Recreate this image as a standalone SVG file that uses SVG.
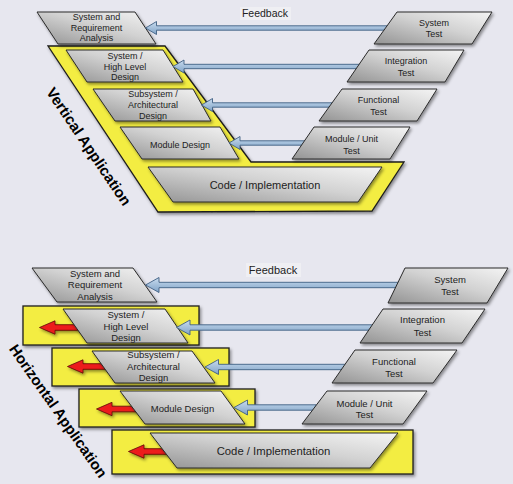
<svg xmlns="http://www.w3.org/2000/svg" width="513" height="484" viewBox="0 0 513 484">
  <defs>
    <linearGradient id="boxFill" x1="0" y1="1" x2="1" y2="0">
      <stop offset="0" stop-color="#939393"/>
      <stop offset="0.55" stop-color="#d2d2d2"/>
      <stop offset="1" stop-color="#f4f4f4"/>
    </linearGradient>
    <linearGradient id="blueFill" x1="0" y1="0" x2="0" y2="1">
      <stop offset="0" stop-color="#c9dcef"/>
      <stop offset="1" stop-color="#7fa2c6"/>
    </linearGradient>
    <filter id="shadow" x="-10%" y="-10%" width="130%" height="140%">
      <feDropShadow dx="1.5" dy="2" stdDeviation="1.6" flood-color="#000" flood-opacity="0.42"/>
    </filter>
    <style>
      .box { fill: url(#boxFill); stroke: #2a2a2a; stroke-width: 1; filter: url(#shadow); }
      .band { fill: #f3ed42; stroke: #1e1e1e; stroke-width: 1.3; filter: url(#shadow); }
      .fb { fill: url(#blueFill); stroke: #3e5f82; stroke-width: 0.9; }
      .shift { fill: #ec1c1c; stroke: #5c0808; stroke-width: 0.8; filter: url(#shadow); }
      text { font-family: "Liberation Sans", Arial, sans-serif; fill: #222; text-anchor: middle; }
      .s { font-size: 9px; }
      .m { font-size: 9.5px; }
      .l { font-size: 11px; }
      .title { font-size: 15px; font-weight: bold; fill: #000; }
    </style>
  </defs>

  <rect width="513" height="484" fill="#e7e7ef"/>

  <!-- ===== Vertical application ===== -->
  <g id="vertical-band">
    <polygon class="band" points="48,46 165,46 251,162 404,162 372,211 158,212"/>
  </g>
  <text class="title" transform="translate(84.5,149.5) rotate(56)">Vertical Application</text>

  <g id="v-sra"><polygon class="box" points="37,12 135,12 156,44 58,44"/>
    <text class="s" x="96.5" y="19.5">System and</text><text class="s" x="96.5" y="30.5">Requirement</text><text class="s" x="96.5" y="41">Analysis</text></g>
  <g id="v-hld"><polygon class="box" points="66,50 163,50 183,82 87,82"/>
    <text class="s" x="125" y="58.5">System /</text><text class="s" x="125" y="69.5">High Level</text><text class="s" x="125" y="80">Design</text></g>
  <g id="v-arch"><polygon class="box" points="93,89 193,89 211,121 115,121"/>
    <text class="s" x="153" y="96.5">Subsystem /</text><text class="s" x="153" y="108">Architectural</text><text class="s" x="153" y="118.5">Design</text></g>
  <g id="v-module"><polygon class="box" points="120,127 220,127 239,159 142,159"/>
    <text class="s" x="180" y="147.5">Module Design</text></g>
  <g id="v-code"><polygon class="box" points="148,167 382,167 358,202 173,202"/>
    <text class="l" x="265" y="189">Code / Implementation</text></g>

  <rect x="240" y="7" width="51" height="13" fill="#efeff3"/>
  <text class="l" x="265" y="16.5" style="font-size:10.5px">Feedback</text>

  <g id="v-feedback">
    <path class="fb" d="M145.5,28 l11,-6.5 v4.3 H388 v4.4 H156.5 v4.3 Z"/>
    <path class="fb" d="M173,66.5 l11,-6.5 v4.3 H360 v4.4 H184 v4.3 Z"/>
    <path class="fb" d="M201.5,105 l11,-6.5 v4.3 H333 v4.4 H212.5 v4.3 Z"/>
    <path class="fb" d="M229,143 l11,-6.5 v4.3 H306 v4.4 H240 v4.3 Z"/>
  </g>

  <g id="v-systest"><polygon class="box" points="397,12 492,12 472,44 374,44"/>
    <text class="s" x="434" y="25.5">System</text><text class="s" x="434" y="36.5">Test</text></g>
  <g id="v-inttest"><polygon class="box" points="369,50 464,50 445,82 347,82"/>
    <text class="s" x="406" y="64">Integration</text><text class="s" x="406" y="75.5">Test</text></g>
  <g id="v-functest"><polygon class="box" points="342,89 437,89 417,121 319,121"/>
    <text class="s" x="378.5" y="103">Functional</text><text class="s" x="378.5" y="114.5">Test</text></g>
  <g id="v-unittest"><polygon class="box" points="314,127 410,127 390,159 292,159"/>
    <text class="s" x="351.5" y="142">Module / Unit</text><text class="s" x="351.5" y="153.5">Test</text></g>

  <!-- ===== Horizontal application ===== -->
  <g id="h-bands">
    <rect class="band" x="23" y="306" width="176" height="39"/>
    <rect class="band" x="52" y="348" width="177" height="38"/>
    <rect class="band" x="79" y="389" width="176" height="38"/>
    <rect class="band" x="112" y="430" width="301" height="44"/>
  </g>
  <text class="title" transform="translate(54,414) rotate(55)">Horizontal Application</text>

  <g id="h-shift">
    <path class="shift" d="M39.5,327.5 l15.5,-6.7 v3.9 H82 v5.6 H55 v3.9 Z"/>
    <path class="shift" d="M67.5,366.5 l15.5,-6.7 v3.9 H108 v5.6 H83 v3.9 Z"/>
    <path class="shift" d="M96.5,409 l15.5,-6.7 v3.9 H138 v5.6 H112 v3.9 Z"/>
    <path class="shift" d="M128.5,451.5 l15.5,-6.7 v3.9 H170 v5.6 H144 v3.9 Z"/>
  </g>

  <g id="h-sra"><polygon class="box" points="32,268 133,268 157,302 57,302"/>
    <text class="m" x="95" y="276.5">System and</text><text class="m" x="95" y="288">Requirement</text><text class="m" x="95" y="299.5">Analysis</text></g>
  <g id="h-hld"><polygon class="box" points="63,309 165,309 188,343 87,343"/>
    <text class="m" x="126" y="318">System /</text><text class="m" x="126" y="330">High Level</text><text class="m" x="126" y="340.5">Design</text></g>
  <g id="h-arch"><polygon class="box" points="92,351 192,351 215,383 115,383"/>
    <text class="m" x="153.5" y="358">Subsystem /</text><text class="m" x="153.5" y="370">Architectural</text><text class="m" x="153.5" y="380.5">Design</text></g>
  <g id="h-module"><polygon class="box" points="120,391 221,391 245,424 145,424"/>
    <text class="m" x="182.5" y="411.5">Module Design</text></g>
  <g id="h-code"><polygon class="box" points="150,433 398,433 370,468 177,468"/>
    <text class="l" x="273.5" y="454.5" style="font-size:11.3px">Code / Implementation</text></g>

  <rect x="246" y="263" width="55" height="14" fill="#efeff3"/>
  <text class="l" x="273" y="273.5">Feedback</text>

  <g id="h-feedback">
    <path class="fb" d="M145.5,285 l13.5,-7.5 v4.8 H404 v5.4 H159 v4.8 Z"/>
    <path class="fb" d="M176.5,327.5 l13.5,-7.5 v4.8 H374 v5.4 H190 v4.8 Z"/>
    <path class="fb" d="M205,367 l13.5,-7.5 v4.8 H346 v5.4 H218.5 v4.8 Z"/>
    <path class="fb" d="M234,407.5 l13.5,-7.5 v4.8 H316 v5.4 H247.5 v4.8 Z"/>
  </g>

  <g id="h-systest"><polygon class="box" points="405,268 508,268 487,303 388,303"/>
    <text class="m" x="450" y="282.5">System</text><text class="m" x="450" y="295">Test</text></g>
  <g id="h-inttest"><polygon class="box" points="383,309 485,309 462,343 360,343"/>
    <text class="m" x="422.5" y="323">Integration</text><text class="m" x="422.5" y="335.5">Test</text></g>
  <g id="h-functest"><polygon class="box" points="355,350 457,350 433,383 332,383"/>
    <text class="m" x="394" y="365">Functional</text><text class="m" x="394" y="376.5">Test</text></g>
  <g id="h-unittest"><polygon class="box" points="327,391 427,391 403,424 302,424"/>
    <text class="m" x="364.5" y="406.5">Module / Unit</text><text class="m" x="364.5" y="417.5">Test</text></g>
</svg>
